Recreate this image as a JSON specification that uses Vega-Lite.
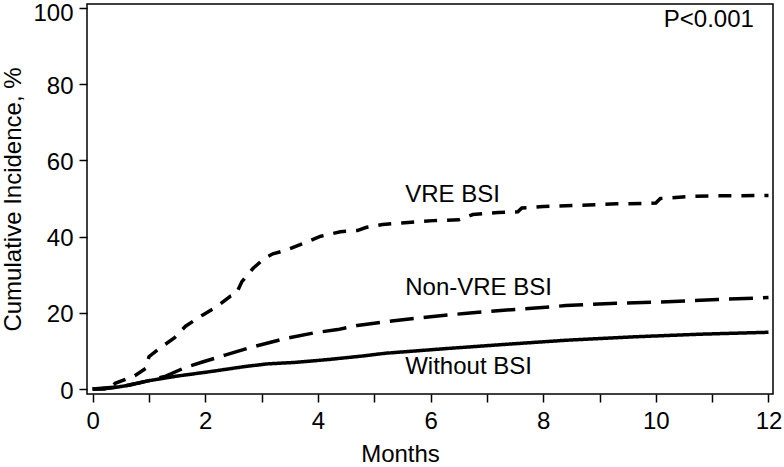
{
  "$schema": "https://vega.github.io/schema/vega-lite/v6.json",
  "width": 686,
  "height": 390,
  "autosize": {"type": "none"},
  "padding": {"left": 87, "top": 4, "right": 11, "bottom": 73},
  "background": "white",
  "config": {
    "font": "Liberation Sans",
    "view": {"stroke": "#000", "strokeWidth": 1.5},
    "axis": {
      "domain": false,
      "grid": false,
      "tickColor": "#000",
      "tickWidth": 1.5,
      "tickSize": 8,
      "labelFont": "Liberation Sans",
      "labelFontSize": 24,
      "labelColor": "#000",
      "titleFont": "Liberation Sans",
      "titleFontSize": 24,
      "titleFontWeight": "normal",
      "titleColor": "#000"
    }
  },
  "datasets": {
    "curves": [
      {"group": "VRE BSI", "month": 0, "pct": 0},
      {"group": "VRE BSI", "month": 0.3, "pct": 0},
      {"group": "VRE BSI", "month": 0.4, "pct": 1.5},
      {"group": "VRE BSI", "month": 0.75, "pct": 3.5},
      {"group": "VRE BSI", "month": 0.95, "pct": 5.5},
      {"group": "VRE BSI", "month": 1.0, "pct": 8.5},
      {"group": "VRE BSI", "month": 1.2, "pct": 10.8},
      {"group": "VRE BSI", "month": 1.45, "pct": 13.4},
      {"group": "VRE BSI", "month": 1.65, "pct": 16.5},
      {"group": "VRE BSI", "month": 1.95, "pct": 19.4},
      {"group": "VRE BSI", "month": 2.2, "pct": 21.6},
      {"group": "VRE BSI", "month": 2.45, "pct": 24.4},
      {"group": "VRE BSI", "month": 2.55, "pct": 25.0},
      {"group": "VRE BSI", "month": 2.65, "pct": 28.2},
      {"group": "VRE BSI", "month": 2.85, "pct": 31.7},
      {"group": "VRE BSI", "month": 3.05, "pct": 34.3},
      {"group": "VRE BSI", "month": 3.2, "pct": 35.5},
      {"group": "VRE BSI", "month": 3.45, "pct": 36.5},
      {"group": "VRE BSI", "month": 3.75, "pct": 38.3},
      {"group": "VRE BSI", "month": 4.05, "pct": 40.1},
      {"group": "VRE BSI", "month": 4.4, "pct": 41.3},
      {"group": "VRE BSI", "month": 4.7, "pct": 41.6},
      {"group": "VRE BSI", "month": 4.85, "pct": 42.4},
      {"group": "VRE BSI", "month": 5.15, "pct": 43.2},
      {"group": "VRE BSI", "month": 5.6, "pct": 43.7},
      {"group": "VRE BSI", "month": 6.05, "pct": 44.2},
      {"group": "VRE BSI", "month": 6.5, "pct": 44.4},
      {"group": "VRE BSI", "month": 6.75, "pct": 45.8},
      {"group": "VRE BSI", "month": 7.2, "pct": 46.3},
      {"group": "VRE BSI", "month": 7.55, "pct": 46.5},
      {"group": "VRE BSI", "month": 7.62, "pct": 47.5},
      {"group": "VRE BSI", "month": 8.0, "pct": 47.9},
      {"group": "VRE BSI", "month": 8.4, "pct": 48.1},
      {"group": "VRE BSI", "month": 8.8, "pct": 48.3},
      {"group": "VRE BSI", "month": 9.3, "pct": 48.6},
      {"group": "VRE BSI", "month": 9.8, "pct": 48.7},
      {"group": "VRE BSI", "month": 10.0, "pct": 48.8},
      {"group": "VRE BSI", "month": 10.08, "pct": 50.0},
      {"group": "VRE BSI", "month": 10.55, "pct": 50.5},
      {"group": "VRE BSI", "month": 11.0, "pct": 50.7},
      {"group": "VRE BSI", "month": 12.0, "pct": 50.8},
      {"group": "Non-VRE BSI", "month": 0, "pct": 0},
      {"group": "Non-VRE BSI", "month": 0.5, "pct": 0.6},
      {"group": "Non-VRE BSI", "month": 1.0, "pct": 2.2},
      {"group": "Non-VRE BSI", "month": 1.3, "pct": 3.4},
      {"group": "Non-VRE BSI", "month": 1.65, "pct": 5.7},
      {"group": "Non-VRE BSI", "month": 1.95, "pct": 7.1},
      {"group": "Non-VRE BSI", "month": 2.35, "pct": 8.9},
      {"group": "Non-VRE BSI", "month": 2.85, "pct": 11.1},
      {"group": "Non-VRE BSI", "month": 3.4, "pct": 13.2},
      {"group": "Non-VRE BSI", "month": 3.95, "pct": 14.8},
      {"group": "Non-VRE BSI", "month": 4.35, "pct": 15.6},
      {"group": "Non-VRE BSI", "month": 4.7, "pct": 16.7},
      {"group": "Non-VRE BSI", "month": 5.35, "pct": 17.9},
      {"group": "Non-VRE BSI", "month": 6.0, "pct": 19.0},
      {"group": "Non-VRE BSI", "month": 6.65, "pct": 19.9},
      {"group": "Non-VRE BSI", "month": 7.3, "pct": 20.7},
      {"group": "Non-VRE BSI", "month": 7.55, "pct": 20.9},
      {"group": "Non-VRE BSI", "month": 8.4, "pct": 21.9},
      {"group": "Non-VRE BSI", "month": 9.3, "pct": 22.5},
      {"group": "Non-VRE BSI", "month": 10.2, "pct": 22.9},
      {"group": "Non-VRE BSI", "month": 11.1, "pct": 23.5},
      {"group": "Non-VRE BSI", "month": 12.0, "pct": 24.0},
      {"group": "Without BSI", "month": 0, "pct": 0},
      {"group": "Without BSI", "month": 0.3, "pct": 0.2},
      {"group": "Without BSI", "month": 0.65, "pct": 1.0},
      {"group": "Without BSI", "month": 1.0, "pct": 2.2},
      {"group": "Without BSI", "month": 1.5, "pct": 3.4},
      {"group": "Without BSI", "month": 2.1, "pct": 4.6},
      {"group": "Without BSI", "month": 2.7, "pct": 5.9},
      {"group": "Without BSI", "month": 3.1, "pct": 6.6},
      {"group": "Without BSI", "month": 3.6, "pct": 7.0},
      {"group": "Without BSI", "month": 4.15, "pct": 7.7},
      {"group": "Without BSI", "month": 4.75, "pct": 8.6},
      {"group": "Without BSI", "month": 5.2, "pct": 9.4},
      {"group": "Without BSI", "month": 6.35, "pct": 10.7},
      {"group": "Without BSI", "month": 7.4, "pct": 11.8},
      {"group": "Without BSI", "month": 8.4, "pct": 12.8},
      {"group": "Without BSI", "month": 9.6, "pct": 13.7},
      {"group": "Without BSI", "month": 10.8, "pct": 14.4},
      {"group": "Without BSI", "month": 12.0, "pct": 14.9}
    ],
    "labels": [
      {"label": "VRE BSI", "month": 5.55, "pct": 50.9},
      {"label": "Non-VRE BSI", "month": 5.55, "pct": 26.5},
      {"label": "Without BSI", "month": 5.55, "pct": 5.9}
    ],
    "pval": [
      {"label": "P<0.001", "month": 11.74, "pct": 96.9}
    ]
  },
  "layer": [
    {
      "data": {"name": "curves"},
      "mark": {"type": "line", "color": "#000", "strokeWidth": 3.5, "strokeCap": "butt", "clip": true},
      "encoding": {
        "x": {
          "field": "month", "type": "quantitative",
          "scale": {"domain": [-0.1, 12.08], "nice": false, "zero": false},
          "axis": {
            "title": "Months",
            "values": [0,1,2,3,4,5,6,7,8,9,10,11,12],
            "format": "d",
            "labelExpr": "datum.value % 2 == 0 ? datum.label : ''",
            "labelPadding": 7,
            "titlePadding": 9,
            "titleX": 313,
            "titleAlign": "center"
          }
        },
        "y": {
          "field": "pct", "type": "quantitative",
          "scale": {"domain": [-1.3, 101.05], "nice": false, "zero": false},
          "axis": {
            "title": "Cumulative Incidence, %",
            "values": [0,10,20,30,40,50,60,70,80,90,100],
            "format": "d",
            "labelExpr": "datum.value % 20 == 0 ? datum.label : ''",
            "labelPadding": 6,
            "labelOffset": {"condition": {"test": "datum.value == 100", "value": 5}, "value": 2},
            "titlePadding": 7
          }
        },
        "strokeDash": {
          "field": "group", "type": "nominal",
          "scale": {"domain": ["VRE BSI", "Non-VRE BSI", "Without BSI"], "range": [[13, 10], [24, 10], [1, 0]]},
          "legend": null
        },
        "detail": {"field": "group"}
      }
    },
    {
      "data": {"name": "labels"},
      "mark": {"type": "text", "align": "left", "baseline": "middle", "fontSize": 24, "font": "Liberation Sans", "color": "#000"},
      "encoding": {
        "x": {"field": "month", "type": "quantitative"},
        "y": {"field": "pct", "type": "quantitative"},
        "text": {"field": "label"}
      }
    },
    {
      "data": {"name": "pval"},
      "mark": {"type": "text", "align": "right", "baseline": "middle", "fontSize": 24, "font": "Liberation Sans", "color": "#000"},
      "encoding": {
        "x": {"field": "month", "type": "quantitative"},
        "y": {"field": "pct", "type": "quantitative"},
        "text": {"field": "label"}
      }
    }
  ]
}
